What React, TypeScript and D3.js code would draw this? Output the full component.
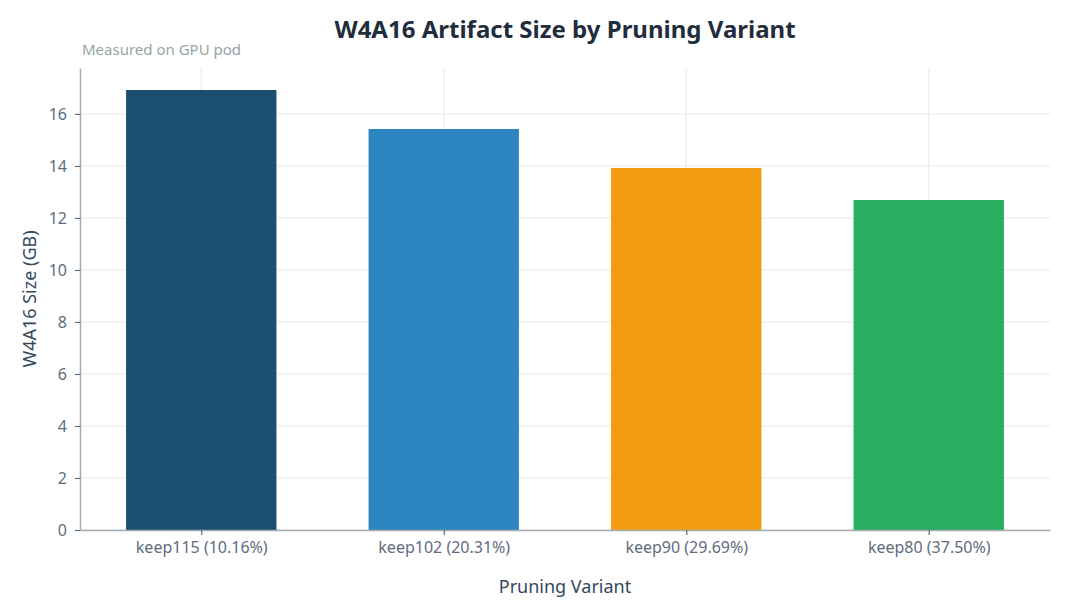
import { useEffect, useRef } from 'react';
import * as d3 from 'd3';

const variants = ['keep115 (10.16%)', 'keep102 (20.31%)', 'keep90 (29.69%)', 'keep80 (37.50%)'];
const sizes = [16.92, 15.42, 13.92, 12.69];
const barColors = ['#1b4f72', '#2e86c1', '#f39c12', '#27ae60'];
const yTicks = [0, 2, 4, 6, 8, 10, 12, 14, 16];

export default function App() {
  const svgRef = useRef<SVGSVGElement>(null);

  useEffect(() => {
    if (!svgRef.current) return;
    const svg = d3.select(svgRef.current);
    svg.selectAll('*').remove();

    const width = 1065;
    const height = 615;
    const margin = { top: 68, right: 15, bottom: 85, left: 80 };
    const font = "'Noto Sans', 'DejaVu Sans', sans-serif";

    const chartWidth = width - margin.left - margin.right;
    const chartHeight = height - margin.top - margin.bottom;

    const g = svg.append('g').attr('transform', `translate(${margin.left},${margin.top})`);

    // Scales
    const xScale = d3.scaleLinear().domain([-0.5, variants.length - 0.5]).range([0, chartWidth]);
    const yScale = d3.scaleLinear().domain([0, d3.max(sizes)! * 1.05]).range([chartHeight, 0]);
    const barW = 0.62;

    // Grid
    g.append('g')
      .selectAll('line')
      .data(yTicks)
      .enter()
      .append('line')
      .attr('x1', 0)
      .attr('x2', chartWidth)
      .attr('y1', d => yScale(d))
      .attr('y2', d => yScale(d))
      .attr('stroke', '#e3e8e8')
      .attr('stroke-width', 1);

    g.append('g')
      .selectAll('line')
      .data(variants)
      .enter()
      .append('line')
      .attr('x1', (_, i) => xScale(i))
      .attr('x2', (_, i) => xScale(i))
      .attr('y1', 0)
      .attr('y2', chartHeight)
      .attr('stroke', '#e3e8e8')
      .attr('stroke-width', 1);

    // Bars
    g.selectAll('.bar')
      .data(sizes)
      .enter()
      .append('rect')
      .attr('class', 'bar')
      .attr('x', (_, i) => xScale(i - barW / 2))
      .attr('width', xScale(barW) - xScale(0))
      .attr('y', d => yScale(d))
      .attr('height', d => chartHeight - yScale(d))
      .attr('fill', (_, i) => barColors[i]);

    // Y-axis
    const yAxis = g.append('g')
      .call(d3.axisLeft(yScale).tickValues(yTicks).tickSize(5).tickPadding(8).tickSizeOuter(0));
    yAxis.select('.domain').attr('stroke', '#a3acb0').attr('stroke-width', 1.5);
    yAxis.selectAll('.tick line').attr('stroke', '#5d6d7e').attr('stroke-width', 1.2);
    yAxis.selectAll('.tick text')
      .attr('fill', '#5d6d7e')
      .style('font-family', font)
      .style('font-size', '16px');

    // X-axis
    const xAxis = g.append('g')
      .attr('transform', `translate(0,${chartHeight})`)
      .call(d3.axisBottom(xScale).tickValues(d3.range(variants.length)).tickFormat(i => variants[i as number]).tickSize(5).tickPadding(7).tickSizeOuter(0));
    xAxis.select('.domain').attr('stroke', '#a3acb0').attr('stroke-width', 1.5);
    xAxis.selectAll('.tick line').attr('stroke', '#5d6d7e').attr('stroke-width', 1.2);
    xAxis.selectAll('.tick text')
      .attr('fill', '#5d6d7e')
      .style('font-family', font)
      .style('font-size', '16px');

    // Labels
    g.append('text')
      .attr('x', chartWidth / 2)
      .attr('y', chartHeight + 63)
      .attr('text-anchor', 'middle')
      .attr('fill', '#34495e')
      .style('font-family', font)
      .style('font-size', '18px')
      .text('Pruning Variant');

    g.append('text')
      .attr('transform', 'rotate(-90)')
      .attr('x', -chartHeight / 2)
      .attr('y', -44)
      .attr('text-anchor', 'middle')
      .attr('fill', '#34495e')
      .style('font-family', font)
      .style('font-size', '18px')
      .text('W4A16 Size (GB)');

    // Title + subtitle
    svg.append('text')
      .attr('x', margin.left + chartWidth / 2)
      .attr('y', 38)
      .attr('text-anchor', 'middle')
      .attr('fill', '#1f2d3d')
      .style('font-family', font)
      .style('font-size', '24px')
      .style('font-weight', '700')
      .text('W4A16 Artifact Size by Pruning Variant');

    svg.append('text')
      .attr('x', margin.left + 2)
      .attr('y', 55)
      .attr('fill', '#95a5a6')
      .style('font-family', font)
      .style('font-size', '15px')
      .text('Measured on GPU pod');
  }, []);

  return (
    <svg
      ref={svgRef}
      width={1065}
      height={615}
      style={{ position: 'absolute', left: 0, top: 0, background: '#fff' }}
    />
  );
}
